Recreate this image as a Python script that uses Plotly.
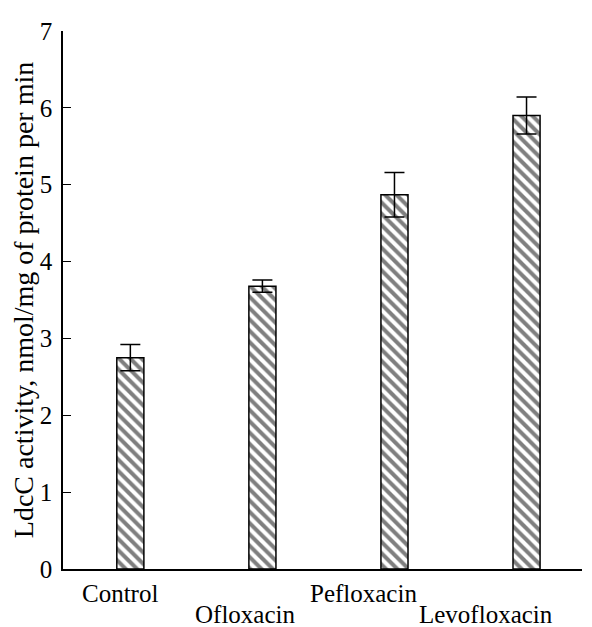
import plotly.graph_objects as go

categories = ["Control", "Ofloxacin", "Pefloxacin", "Levofloxacin"]
values = [2.75, 3.68, 4.87, 5.90]
errors = [0.17, 0.08, 0.29, 0.24]
y_ticks = [0, 1, 2, 3, 4, 5, 6, 7]

FONT = "Liberation Serif"
xpos = list(range(len(categories)))

fig = go.Figure()
fig.add_trace(go.Bar(
    x=xpos, y=values, width=0.205,
    marker=dict(color="white", line=dict(color="black", width=1.5),
                pattern=dict(shape="\\", fgcolor="black", bgcolor="white",
                             size=8, solidity=0.5)),
    error_y=dict(type="data", array=errors, visible=True, color="black",
                 thickness=1.5, width=10),
))

# staggered category labels
label_row = [0, 1, 0, 1]
label_shift = [-10, -17, -31, -41]
for i, c in enumerate(categories):
    fig.add_annotation(x=xpos[i], y=0, xref="x", yref="y", text=c,
                       showarrow=False, xshift=label_shift[i],
                       yshift=-24 - 21 * label_row[i],
                       font=dict(family=FONT, size=25, color="black"))

fig.update_layout(
    width=584, height=619,
    margin=dict(l=54, r=10, t=16, b=58),
    paper_bgcolor="white", plot_bgcolor="white",
    showlegend=False,
    font=dict(family=FONT, size=24, color="black"),
    xaxis=dict(range=[-0.51, 3.42], showticklabels=False, ticks="",
               showgrid=False, zeroline=False, showline=True,
               linecolor="black", linewidth=1.5),
    yaxis=dict(range=[0, 7], tickvals=y_ticks, ticks="inside", ticklen=8,
               tickwidth=1.2, tickcolor="black", showgrid=False,
               zeroline=False, showline=True, linecolor="black",
               linewidth=1.5, ticklabelstandoff=4,
               tickfont=dict(family=FONT, size=25),
               title=dict(text="LdcC activity, nmol/mg of protein per min",
                          font=dict(family=FONT, size=28), standoff=2)),
)

fig.write_html("out.html")
